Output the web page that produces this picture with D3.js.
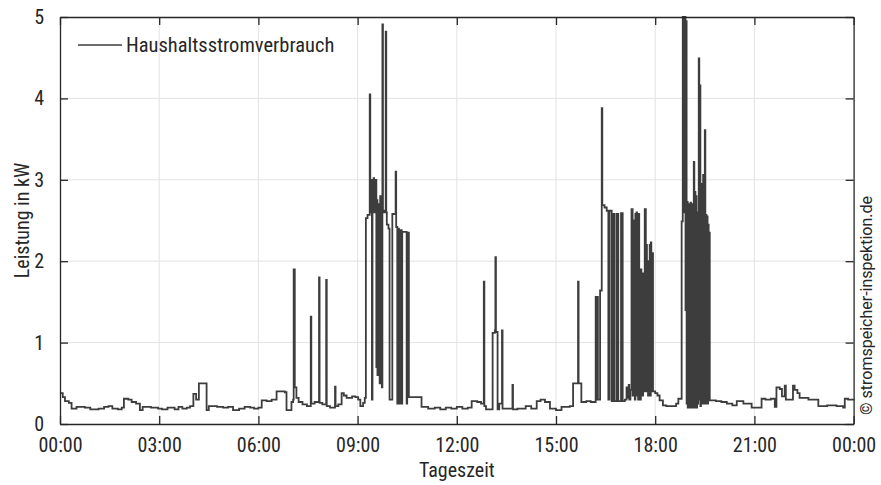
<!DOCTYPE html>
<html>
<head>
<meta charset="utf-8">
<script src="https://cdn.jsdelivr.net/npm/d3@7"></script>
<style>
  body { margin: 0; background: #fff; }
  text { font-family: "Roboto Condensed", "Liberation Sans Narrow", "Arial Narrow", Roboto, sans-serif; fill: #262626; }
</style>
</head>
<body>
<div class="vis"></div>
<script>
// change points of the load profile: [minute of day, kW]
var nightSteps = [[0,0.38],[5,0.33],[9,0.28],[16,0.26],[21,0.19],[30,0.21],[45,0.2],[55,0.18],[70,0.19],[80,0.21],[88,0.22],[95,0.19],[105,0.18],[112,0.2],[116,0.31],[124,0.3],[130,0.27],[138,0.25],[145,0.17],[150,0.21],[165,0.2],[178,0.19],[185,0.18],[195,0.2],[208,0.18],[215,0.21],[222,0.19],[230,0.2],[236,0.22],[242,0.37],[247,0.3],[252,0.5],[266,0.17],[270,0.22],[285,0.21],[296,0.2],[305,0.21],[314,0.17],[325,0.19],[335,0.21],[345,0.2],[352,0.19],[360,0.2],[366,0.29],[375,0.28],[384,0.3],[393,0.4],[408,0.39],[411,0.17],[420,0.27]];

var morningSteps = [[423,0.3],[424,1.9],[426,0.45],[429,0.32],[433,0.27],[440,0.24],[448,0.22],[455,1.32],[456,0.25],[462,0.27],[470,1.8],[471,0.26],[476,0.24],[483,1.77],[484,0.22],[490,0.2],[499,0.46],[500,0.22],[505,0.24],[511,0.38],[515,0.35],[520,0.32],[530,0.34],[536,0.33],[541,0.3],[545,0.22],[550,0.26],[553,0.32],
  [555,2.53],[558,2.57],[562,4.05],[563,2.6],[565,3.0],[566,0.3],[567,2.98],[568,2.6],[569,3.02],[570,2.62],[571,2.98],[572,2.6],[573,3.0],[574,0.7],[575,2.75],[576,0.6],[577,2.7],[578,0.75],[579,2.65],[580,0.5],[581,2.8],[582,0.55],[583,2.7],[584,0.45],[585,4.91],[586,2.62],[588,2.6],[591,4.82],[592,2.6],[593,2.45],[596,2.4],[598,0.3],[603,2.58],[609,3.1],[610,2.42],[612,0.25],[613,2.4],[615,0.25],[617,2.38],[620,0.25],[621,2.36],[629,0.25],[630,2.35],[633,0.33],[656,0.21]];

var middaySteps = [[668,0.19],[680,0.2],[690,0.18],[700,0.2],[710,0.19],[720,0.21],[730,0.19],[740,0.2],[747,0.28],[757,0.27],[764,0.25],[769,1.75],[770,0.22],[773,0.18],[785,1.12],[789,1.15],[790,2.05],[791,1.13],[794,0.18],[797,0.25],[802,1.15],[803,0.19],[812,0.19],[821,0.48],[822,0.18],[830,0.19],[845,0.22],[855,0.19],[865,0.28],[872,0.3],[880,0.27],[889,0.19],[900,0.17],[910,0.21],[925,0.22],[931,0.5],[940,1.75],[941,0.5],[946,0.27],[955,0.28],[963,0.27]];

var afternoonSteps = [[972,1.56],[973,0.3],[975,1.56],[976,0.3],[980,1.64],[983,3.88],[984,2.69],[988,2.66],[992,2.62],[995,0.3],[997,2.62],[1001,0.28],[1003,2.58],[1006,0.28],[1010,2.58],[1013,0.28],[1018,2.59],[1021,0.28],[1025,0.3],[1028,0.45],[1030,0.32],[1032,0.48],[1033,0.3],[1035,0.42],
  [1037,2.64],[1039,0.35],[1040,2.5],[1041,0.4],[1042,2.48],[1043,0.3],[1044,2.58],[1045,0.35],[1046,2.6],[1047,0.45],[1048,2.55],[1049,0.3],[1050,2.58],[1051,0.4],[1052,1.8],[1053,0.3],[1054,1.9],[1055,0.45],[1056,1.7],[1057,0.35],[1058,1.85],[1059,0.4],[1061,2.64],[1063,0.4],[1064,2.2],[1065,0.45],[1066,1.9],[1067,0.35],[1068,2.0],[1069,0.4],[1070,2.2],[1071,0.35],[1072,2.23],[1073,0.4],[1074,2.1],[1076,0.4],
  [1080,0.38],[1084,0.35],[1088,0.29],[1094,0.23],[1100,0.22],[1110,0.22],[1118,0.25],[1122,0.31]];

var eveningSteps = [[1128,2.49],[1130,5.0],[1131,2.6],[1132,4.98],[1133,2.7],[1134,5.0],[1135,1.4],[1136,4.95],[1137,0.25],[1138,2.73],[1139,0.2],[1140,2.7],[1141,0.22],[1142,2.68],[1143,0.2],[1144,2.72],[1145,0.25],[1146,2.65],[1147,0.2],[1148,2.7],[1149,0.22],[1150,3.22],[1151,0.2],[1152,2.85],[1153,0.25],[1154,2.8],[1155,0.2],[1156,2.6],[1157,0.25],[1158,2.1],[1159,4.49],[1160,0.3],[1161,4.16],[1162,0.22],[1163,2.95],[1164,0.25],[1165,2.9],[1166,0.3],[1167,3.06],[1168,0.25],[1169,2.9],[1170,3.61],[1171,0.25],[1172,2.57],[1173,0.3],[1174,2.55],[1175,0.25],[1176,2.45],[1177,0.3],[1178,2.35],
  [1179,0.29],[1190,0.28],[1200,0.27],[1210,0.25],[1220,0.23],[1228,0.28],[1240,0.25],[1255,0.2],[1273,0.31],[1280,0.3],[1290,0.31],[1297,0.21],[1300,0.45],[1306,0.43],[1310,0.34],[1315,0.47],[1317,0.3],[1330,0.47],[1333,0.42],[1338,0.38],[1342,0.32],[1358,0.3],[1376,0.22],[1392,0.23],[1409,0.22],[1421,0.2],[1424,0.31],[1430,0.3],[1440,0.31]];

var xTickMinutes = [0, 180, 360, 540, 720, 900, 1080, 1260, 1440];
var yTicks = [0, 1, 2, 3, 4, 5];
var seriesName = "Haushaltsstromverbrauch";

var data = nightSteps.concat(morningSteps, middaySteps, afternoonSteps, eveningSteps)
	.map(d => ({t: d[0], kw: d[1]}));

var margin = {top: 17, right: 27.4, bottom: 61, left: 60};
var width = 881 - margin.left - margin.right;
var height = 485 - margin.top - margin.bottom;

var svg = d3.select(".vis")
	.append("svg")
	.attr("width", 881)
	.attr("height", 485)
	.append("g")
	.attr("transform", "translate(" + margin.left + "," + margin.top + ")");

var x = d3.scaleLinear().domain([0, 1440]).range([0, width]);
var y = d3.scaleLinear().domain([0, 5]).range([height, 0]);

function hhmm(m) {
	var h = Math.floor(m / 60) % 24;
	return (h < 10 ? "0" : "") + h + ":00";
}

// grid
svg.append("g").selectAll("line.gx")
	.data(xTickMinutes.slice(1, -1))
	.enter().append("line")
	.attr("x1", d => x(d)).attr("x2", d => x(d))
	.attr("y1", 0).attr("y2", height)
	.attr("stroke", "#e3e3e3").attr("stroke-width", 1);
svg.append("g").selectAll("line.gy")
	.data(yTicks.slice(1, -1))
	.enter().append("line")
	.attr("x1", 0).attr("x2", width)
	.attr("y1", d => y(d)).attr("y2", d => y(d))
	.attr("stroke", "#e3e3e3").attr("stroke-width", 1);

// the line
var line = d3.line()
	.x(d => x(d.t))
	.y(d => y(d.kw))
	.curve(d3.curveStepAfter);

svg.append("path")
	.datum(data)
	.attr("fill", "none")
	.attr("stroke", "#3d3d3d")
	.attr("stroke-width", 1.8)
	.attr("stroke-linejoin", "miter")
	.attr("d", line);

// axes with inward ticks on all four sides
var xAxis = svg.append("g")
	.attr("transform", "translate(0," + height + ")")
	.call(d3.axisBottom(x).tickValues(xTickMinutes).tickFormat(hhmm).tickSizeInner(-8).tickSizeOuter(0).tickPadding(14));
var yAxis = svg.append("g")
	.call(d3.axisLeft(y).tickValues(yTicks).tickFormat(d3.format("d")).tickSizeInner(-8).tickSizeOuter(0).tickPadding(16));
svg.append("g")
	.call(d3.axisTop(x).tickValues(xTickMinutes).tickFormat("").tickSizeInner(-8).tickSizeOuter(0));
svg.append("g")
	.attr("transform", "translate(" + width + ",0)")
	.call(d3.axisRight(y).tickValues(yTicks).tickFormat("").tickSizeInner(-8).tickSizeOuter(0));

svg.selectAll(".domain").attr("stroke", "#262626").attr("stroke-width", 1.3);
svg.selectAll(".tick line").attr("stroke", "#262626").attr("stroke-width", 1.3);
xAxis.selectAll("text").style("font-size", "20px").attr("fill", "#262626");
yAxis.selectAll("text").style("font-size", "20px").attr("fill", "#262626");

// axis titles
svg.append("text")
	.attr("x", width / 2).attr("y", height + 53)
	.attr("text-anchor", "middle")
	.style("font-size", "20px")
	.text("Tageszeit");
svg.append("text")
	.attr("transform", "translate(-31," + (height / 2) + ")rotate(-90)")
	.attr("text-anchor", "middle")
	.style("font-size", "20px")
	.text("Leistung in kW");

// legend
svg.append("line")
	.attr("x1", 18).attr("x2", 62).attr("y1", 28).attr("y2", 28)
	.attr("stroke", "#3d3d3d").attr("stroke-width", 1.5);
svg.append("text")
	.attr("x", 66).attr("y", 28).attr("dy", "0.35em")
	.style("font-size", "20.5px")
	.text(seriesName);

// copyright
svg.append("text")
	.attr("transform", "translate(" + (width + 13) + "," + (height - 9) + ")rotate(-90)")
	.attr("text-anchor", "start")
	.attr("dy", "0.35em")
	.style("font-family", "Roboto, sans-serif")
	.style("font-size", "16px")
	.text("© stromspeicher-inspektion.de");
</script>
</body>
</html>
